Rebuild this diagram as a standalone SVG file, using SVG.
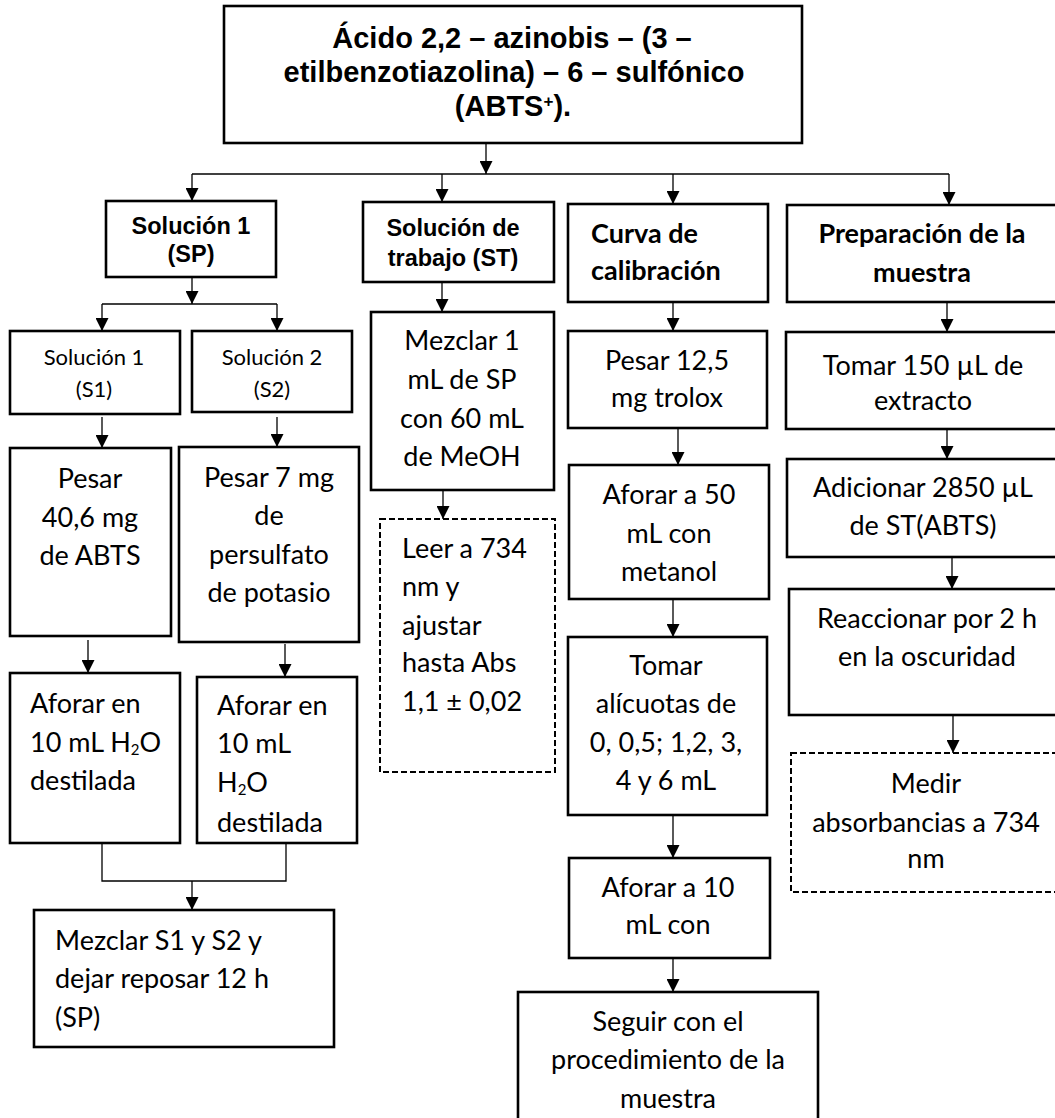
<svg xmlns="http://www.w3.org/2000/svg" width="1055" height="1118" viewBox="0 0 1055 1118">
<style>
.box{fill:#fff;stroke:#000;stroke-width:2.6}
.dash{fill:#fff;stroke:#000;stroke-width:2;stroke-dasharray:6 3}
.con{fill:none;stroke:#000;stroke-width:1.3}
.title{font-family:"Liberation Sans",Arial,sans-serif;font-weight:bold;font-size:29px;text-anchor:middle}
.hA{font-family:"Liberation Sans",Arial,sans-serif;font-weight:bold;font-size:23.5px;text-anchor:middle}
.hC{font-family:Lato,"Open Sans",sans-serif;font-weight:bold;font-size:27px}
.t{font-family:Lato,"Open Sans",sans-serif;font-size:27px}
.s{font-family:Lato,"Open Sans",sans-serif;font-size:22px;text-anchor:middle}
.c{text-anchor:middle}
.sub{font-size:15px}
</style>
<defs>
<marker id="ah" viewBox="0 0 13 13" refX="13" refY="6.5" markerWidth="13" markerHeight="13" markerUnits="userSpaceOnUse" orient="auto">
<path d="M0,0 L13,6.5 L0,13 z" fill="#000"/>
</marker>
</defs>
<rect width="1055" height="1118" fill="#fff"/>

<g id="connectors">
<line class="con" x1="486" y1="143" x2="486" y2="174" marker-end="url(#ah)"/>
<line class="con" x1="192" y1="174" x2="949" y2="174"/>
<line class="con" x1="192" y1="174" x2="192" y2="201" marker-end="url(#ah)"/>
<line class="con" x1="442" y1="174" x2="442" y2="202" marker-end="url(#ah)"/>
<line class="con" x1="673" y1="174" x2="673" y2="204" marker-end="url(#ah)"/>
<line class="con" x1="949" y1="174" x2="949" y2="205" marker-end="url(#ah)"/>
<line class="con" x1="192" y1="277" x2="192" y2="304" marker-end="url(#ah)"/>
<line class="con" x1="102" y1="304" x2="277" y2="304"/>
<line class="con" x1="102" y1="304" x2="102" y2="331" marker-end="url(#ah)"/>
<line class="con" x1="277" y1="304" x2="277" y2="331" marker-end="url(#ah)"/>
<line class="con" x1="102" y1="417" x2="102" y2="448" marker-end="url(#ah)"/>
<line class="con" x1="277" y1="417" x2="277" y2="447" marker-end="url(#ah)"/>
<line class="con" x1="88" y1="640" x2="88" y2="673" marker-end="url(#ah)"/>
<line class="con" x1="285" y1="644" x2="285" y2="677" marker-end="url(#ah)"/>
<polyline class="con" points="102,843 102,881 286,881 286,843"/>
<line class="con" x1="192" y1="881" x2="192" y2="910" marker-end="url(#ah)"/>
<line class="con" x1="442" y1="282" x2="442" y2="312" marker-end="url(#ah)"/>
<line class="con" x1="443" y1="490" x2="443" y2="519" marker-end="url(#ah)"/>
<line class="con" x1="673" y1="302" x2="673" y2="331" marker-end="url(#ah)"/>
<line class="con" x1="678" y1="428" x2="678" y2="465" marker-end="url(#ah)"/>
<line class="con" x1="673" y1="599" x2="673" y2="637" marker-end="url(#ah)"/>
<line class="con" x1="673" y1="815" x2="673" y2="858" marker-end="url(#ah)"/>
<line class="con" x1="673" y1="958" x2="673" y2="992" marker-end="url(#ah)"/>
<line class="con" x1="947" y1="302" x2="947" y2="332" marker-end="url(#ah)"/>
<line class="con" x1="947" y1="429" x2="947" y2="459" marker-end="url(#ah)"/>
<line class="con" x1="952" y1="557" x2="952" y2="589" marker-end="url(#ah)"/>
<line class="con" x1="953" y1="715" x2="953" y2="753" marker-end="url(#ah)"/>
</g>

<g id="n-title">
<rect class="box" x="224" y="6" width="578" height="137"/>
<text class="title" x="512" y="48">Ácido 2,2 – azinobis – (3 –</text>
<text class="title" x="514" y="82">etilbenzotiazolina) – 6 – sulfónico</text>
<text class="title" x="513" y="116">(ABTS<tspan font-size="17" baseline-shift="super">+</tspan>).</text>
</g>

<g id="n-sp">
<rect class="box" x="106" y="201" width="170" height="76"/>
<text class="hA" x="191" y="234">Solución 1</text>
<text class="hA" x="191" y="262">(SP)</text>
</g>
<g id="n-st">
<rect class="box" x="363" y="202" width="191" height="80"/>
<text class="hA" x="453" y="236" font-size="25.5">Solución de</text>
<text class="hA" x="453" y="266" font-size="25.5">trabajo (ST)</text>
</g>
<g id="n-curva">
<rect class="box" x="568" y="204" width="200" height="98"/>
<text class="hC" x="591" y="243">Curva de</text>
<text class="hC" x="591" y="280">calibración</text>
</g>
<g id="n-prep">
<rect class="box" x="787" y="205" width="275" height="97"/>
<text class="hC c" x="922" y="243">Preparación de la</text>
<text class="hC c" x="922" y="282">muestra</text>
</g>

<g id="n-s1">
<rect class="box" x="10" y="331" width="170" height="83"/>
<text class="s" x="94" y="365">Solución 1</text>
<text class="s" x="94" y="397">(S1)</text>
</g>
<g id="n-s2">
<rect class="box" x="192" y="331" width="160" height="81"/>
<text class="s" x="272" y="365">Solución 2</text>
<text class="s" x="272" y="397">(S2)</text>
</g>
<g id="n-pesar40">
<rect class="box" x="10" y="448" width="161" height="188"/>
<text class="t c" x="90" y="488">Pesar</text>
<text class="t c" x="90" y="527">40,6 mg</text>
<text class="t c" x="90" y="565">de ABTS</text>
</g>
<g id="n-pesar7">
<rect class="box" x="179" y="447" width="180" height="195"/>
<text class="t c" x="269" y="487">Pesar 7 mg</text>
<text class="t c" x="269" y="525">de</text>
<text class="t c" x="269" y="564">persulfato</text>
<text class="t c" x="269" y="602">de potasio</text>
</g>
<g id="n-aforar1">
<rect class="box" x="10" y="673" width="170" height="170"/>
<text class="t" x="30" y="713">Aforar en</text>
<text class="t" x="30" y="752">10 mL H<tspan class="sub" baseline-shift="-3">2</tspan>O</text>
<text class="t" x="30" y="790">destilada</text>
</g>
<g id="n-aforar2">
<rect class="box" x="197" y="677" width="160" height="166"/>
<text class="t" x="217" y="715">Aforar en</text>
<text class="t" x="217" y="753">10 mL</text>
<text class="t" x="217" y="792">H<tspan class="sub" baseline-shift="-3">2</tspan>O</text>
<text class="t" x="217" y="832">destilada</text>
</g>
<g id="n-mezclar-s">
<rect class="box" x="34" y="910" width="300" height="137"/>
<text class="t" x="55" y="950">Mezclar S1 y S2 y</text>
<text class="t" x="55" y="988">dejar reposar 12 h</text>
<text class="t" x="55" y="1027">(SP)</text>
</g>

<g id="n-mezclar1">
<rect class="box" x="371" y="312" width="183" height="178"/>
<text class="t c" x="462" y="350">Mezclar 1</text>
<text class="t c" x="462" y="389">mL de SP</text>
<text class="t c" x="462" y="428">con 60 mL</text>
<text class="t c" x="462" y="466">de MeOH</text>
</g>
<g id="n-leer">
<rect class="dash" x="380" y="519" width="175" height="253"/>
<text class="t" x="402" y="558">Leer a 734</text>
<text class="t" x="402" y="596">nm y</text>
<text class="t" x="402" y="635">ajustar</text>
<text class="t" x="402" y="672">hasta Abs</text>
<text class="t" x="402" y="711">1,1 ± 0,02</text>
</g>

<g id="n-pesar12">
<rect class="box" x="568" y="331" width="199" height="97"/>
<text class="t c" x="667" y="370">Pesar 12,5</text>
<text class="t c" x="667" y="407">mg trolox</text>
</g>
<g id="n-aforar50">
<rect class="box" x="569" y="465" width="200" height="134"/>
<text class="t c" x="669" y="504">Aforar a 50</text>
<text class="t c" x="669" y="543">mL con</text>
<text class="t c" x="669" y="581">metanol</text>
</g>
<g id="n-tomar">
<rect class="box" x="568" y="637" width="199" height="178"/>
<text class="t c" x="666" y="675">Tomar</text>
<text class="t c" x="666" y="713">alícuotas de</text>
<text class="t c" x="666" y="752">0, 0,5; 1,2, 3,</text>
<text class="t c" x="666" y="790">4 y 6 mL</text>
</g>
<g id="n-aforar10">
<rect class="box" x="569" y="858" width="201" height="100"/>
<text class="t c" x="668" y="897">Aforar a 10</text>
<text class="t c" x="668" y="934">mL con</text>
</g>
<g id="n-seguir">
<rect class="box" x="518" y="992" width="300" height="135"/>
<text class="t c" x="668" y="1031">Seguir con el</text>
<text class="t c" x="668" y="1069">procedimiento de la</text>
<text class="t c" x="668" y="1108">muestra</text>
</g>

<g id="n-tomar150">
<rect class="box" x="786" y="332" width="275" height="97"/>
<text class="t c" x="923" y="375">Tomar 150 µL de</text>
<text class="t c" x="923" y="410">extracto</text>
</g>
<g id="n-adicionar">
<rect class="box" x="787" y="459" width="275" height="98"/>
<text class="t c" x="923" y="497">Adicionar 2850 µL</text>
<text class="t c" x="923" y="535">de ST(ABTS)</text>
</g>
<g id="n-reaccionar">
<rect class="box" x="789" y="589" width="275" height="126"/>
<text class="t c" x="927" y="628">Reaccionar por 2 h</text>
<text class="t c" x="927" y="666">en la oscuridad</text>
</g>
<g id="n-medir">
<rect class="dash" x="791" y="753" width="272" height="139"/>
<text class="t c" x="926" y="793">Medir</text>
<text class="t c" x="926" y="832">absorbancias a 734</text>
<text class="t c" x="926" y="868">nm</text>
</g>
</svg>
